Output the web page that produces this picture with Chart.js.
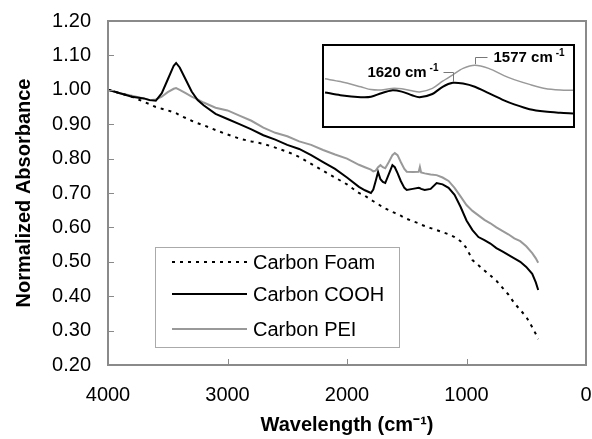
<!DOCTYPE html>
<html>
<head>
<meta charset="utf-8">
<script src="https://cdn.jsdelivr.net/npm/chart.js@4"></script>
<style>
    html, body { margin: 0; padding: 0; background: #fff; }
    #wrap { position: relative; width: 592px; height: 439px; }
    #inset { position: absolute; left: 322px; top: 44px; width: 249px; height: 80px; border: 2px solid #000; background: #fff; }
</style>
</head>
<body>
<div id="wrap">
    <canvas id="myChart" width="592" height="439"></canvas>
    <div id="inset"><canvas id="insetChart" width="249" height="80"></canvas></div>
</div>
<script>
// wavenumbers (cm-1) shared by the three spectra
var wavenumbers = [4000, 3900, 3800, 3700, 3650, 3600, 3550, 3500, 3450, 3430, 3400, 3350, 3300, 3250, 3200, 3100, 3000, 2900, 2800, 2700, 2600, 2500, 2400, 2300, 2200, 2100, 2000, 1900, 1850, 1800, 1780, 1760, 1740, 1720, 1700, 1680, 1650, 1620, 1600, 1577, 1550, 1520, 1500, 1450, 1400, 1390, 1380, 1350, 1300, 1250, 1200, 1150, 1100, 1050, 1000, 950, 900, 850, 800, 750, 700, 650, 600, 550, 500, 450, 420, 400];

var carbonFoam = [1.00, 0.99, 0.98, 0.965, 0.958, 0.95, 0.945, 0.94, 0.935, 0.932, 0.926, 0.918, 0.91, 0.903, 0.897, 0.883, 0.87, 0.858, 0.85, 0.843, 0.832, 0.82, 0.805, 0.785, 0.765, 0.745, 0.725, 0.70, 0.692, 0.68, 0.676, 0.672, 0.668, 0.663, 0.66, 0.655, 0.65, 0.645, 0.642, 0.638, 0.634, 0.628, 0.625, 0.618, 0.612, 0.61, 0.608, 0.604, 0.598, 0.592, 0.586, 0.58, 0.572, 0.56, 0.54, 0.505, 0.49, 0.475, 0.46, 0.445, 0.425, 0.405, 0.38, 0.36, 0.34, 0.31, 0.29, 0.275];

var carbonCOOH = [1.00, 0.99, 0.98, 0.975, 0.97, 0.968, 0.99, 1.03, 1.07, 1.078, 1.065, 1.03, 0.995, 0.97, 0.955, 0.93, 0.915, 0.90, 0.885, 0.868, 0.855, 0.84, 0.828, 0.81, 0.79, 0.77, 0.745, 0.718, 0.708, 0.70, 0.71, 0.735, 0.761, 0.74, 0.732, 0.729, 0.755, 0.781, 0.775, 0.758, 0.735, 0.715, 0.709, 0.712, 0.715, 0.714, 0.712, 0.709, 0.712, 0.729, 0.725, 0.715, 0.695, 0.66, 0.62, 0.592, 0.572, 0.563, 0.553, 0.54, 0.53, 0.52, 0.51, 0.50, 0.485, 0.465, 0.44, 0.418];

var carbonPEI = [1.00, 0.99, 0.983, 0.975, 0.97, 0.972, 0.98, 0.993, 1.003, 1.005, 1.0, 0.99, 0.98, 0.972, 0.963, 0.948, 0.94, 0.925, 0.91, 0.89, 0.875, 0.865, 0.85, 0.84, 0.825, 0.812, 0.80, 0.782, 0.775, 0.768, 0.763, 0.765, 0.775, 0.781, 0.775, 0.772, 0.79, 0.81, 0.816, 0.81, 0.79, 0.77, 0.762, 0.761, 0.762, 0.776, 0.76, 0.757, 0.754, 0.752, 0.745, 0.735, 0.715, 0.69, 0.665, 0.648, 0.635, 0.622, 0.612, 0.60, 0.59, 0.58, 0.568, 0.56, 0.545, 0.525, 0.51, 0.497];

var seriesNames = ["Carbon Foam", "Carbon COOH", "Carbon PEI"];
var xTicks = [4000, 3000, 2000, 1000, 0];
var yTicks = [0.2, 0.3, 0.4, 0.5, 0.6, 0.7, 0.8, 0.9, 1.0, 1.1, 1.2];

// inset: 1870-1385 cm-1 region, relative absorbance
var insetWavenumbers = [1870, 1840, 1800, 1780, 1760, 1740, 1720, 1700, 1685, 1660, 1640, 1620, 1600, 1577, 1550, 1520, 1500, 1470, 1440, 1410, 1385];
var insetPEI = [0.59, 0.555, 0.49, 0.455, 0.45, 0.47, 0.465, 0.44, 0.425, 0.47, 0.56, 0.64, 0.72, 0.76, 0.72, 0.63, 0.58, 0.52, 0.47, 0.45, 0.446];
var insetCOOH = [0.42, 0.385, 0.36, 0.365, 0.41, 0.445, 0.43, 0.385, 0.36, 0.40, 0.49, 0.54, 0.53, 0.49, 0.41, 0.32, 0.27, 0.21, 0.18, 0.165, 0.157];
var insetPeaks = [1620, 1577];

var FONT = '"Liberation Sans", Arial, sans-serif';
Chart.defaults.font.family = FONT;
Chart.defaults.color = "#000";

function toPoints(xs, ys) {
    return xs.map(function (x, i) {
        return { x: x, y: ys[i] };
    });
}

// plot frame, inner tick marks and legend box
var framePlugin = {
    id: "frame",
    afterDraw: function (chart) {
        var c = chart.ctx;
        var a = chart.chartArea;
        var xs = chart.scales.x;
        var ys = chart.scales.y;
        c.save();
        c.strokeStyle = "#8a8a8a";
        c.lineWidth = 2;
        c.strokeRect(a.left, a.top, a.right - a.left, a.bottom - a.top);
        c.lineWidth = 1;
        c.beginPath();
        yTicks.forEach(function (v) {
            var py = Math.round(ys.getPixelForValue(v)) + 0.5;
            c.moveTo(a.left, py);
            c.lineTo(a.left + 6, py);
        });
        xTicks.forEach(function (v) {
            var px = Math.round(xs.getPixelForValue(v)) + 0.5;
            c.moveTo(px, a.bottom);
            c.lineTo(px, a.bottom - 6);
        });
        c.stroke();

        // legend
        var lx = a.left + 47, ly = a.top + 226, lw = 244, lh = 100;
        c.fillStyle = "#fff";
        c.fillRect(lx, ly, lw, lh);
        c.strokeStyle = "#aaa";
        c.lineWidth = 1;
        c.strokeRect(lx + 0.5, ly + 0.5, lw, lh);
        var rows = [15, 47, 82];
        chart.data.datasets.forEach(function (ds, i) {
            var yy = ly + rows[i];
            c.beginPath();
            c.setLineDash(ds.borderDash || []);
            c.strokeStyle = ds.borderColor;
            c.lineWidth = ds.borderWidth;
            c.moveTo(lx + 17, yy);
            c.lineTo(lx + 92, yy);
            c.stroke();
            c.setLineDash([]);
            c.fillStyle = "#000";
            c.font = "20px " + FONT;
            c.textBaseline = "middle";
            c.textAlign = "left";
            c.fillText(ds.label, lx + 98, yy + 1);
        });
        c.restore();
    }
};

var ctx = document.getElementById("myChart").getContext("2d");
var myChart = new Chart(ctx, {
    type: "line",
    data: {
        datasets: [
            {
                label: seriesNames[0],
                data: toPoints(wavenumbers, carbonFoam),
                borderColor: "#000",
                borderWidth: 2,
                borderDash: [3, 5],
                pointRadius: 0,
                tension: 0
            },
            {
                label: seriesNames[1],
                data: toPoints(wavenumbers, carbonCOOH),
                borderColor: "#000",
                borderWidth: 2,
                pointRadius: 0,
                tension: 0
            },
            {
                label: seriesNames[2],
                data: toPoints(wavenumbers, carbonPEI),
                borderColor: "#999",
                borderWidth: 2,
                pointRadius: 0,
                tension: 0
            }
        ]
    },
    options: {
        responsive: false,
        animation: false,
        layout: { padding: { left: 0, top: 21, right: 6, bottom: 0 } },
        plugins: {
            legend: { display: false },
            tooltip: { enabled: false }
        },
        scales: {
            x: {
                type: "linear",
                reverse: true,
                min: 0,
                max: 4000,
                afterBuildTicks: function (scale) {
                    scale.ticks = xTicks.map(function (v) { return { value: v }; });
                },
                afterFit: function (scale) {
                    scale.height = 74;
                    scale.paddingLeft = 0;
                    scale.paddingRight = 0;
                },
                grid: { display: false, drawTicks: false },
                border: { display: false },
                ticks: {
                    padding: 18,
                    font: { size: 20 },
                    maxRotation: 0,
                    color: "#000",
                    callback: function (v) { return String(v); }
                },
                title: {
                    display: true,
                    text: "Wavelength (cm⁻¹)",
                    font: { size: 20, weight: "bold" },
                    padding: { top: 0, bottom: 2 },
                    color: "#000"
                }
            },
            y: {
                min: 0.2,
                max: 1.2,
                afterBuildTicks: function (scale) {
                    scale.ticks = yTicks.map(function (v) { return { value: v }; });
                },
                afterFit: function (scale) {
                    scale.width = 108;
                    scale.paddingTop = 0;
                    scale.paddingBottom = 0;
                },
                grid: { display: false, drawTicks: false },
                border: { display: false },
                ticks: {
                    padding: 17,
                    font: { size: 20 },
                    color: "#000",
                    callback: function (v) { return Number(v).toFixed(2); }
                },
                title: {
                    display: true,
                    text: "Normalized Absorbance",
                    font: { size: 20, weight: "bold" },
                    padding: { top: 12, bottom: 0 },
                    color: "#000"
                }
            }
        }
    },
    plugins: [framePlugin]
});

// peak labels on the inset
function drawPeakLabel(c, text, x, y, align) {
    c.font = "bold 15px " + FONT;
    var w1 = c.measureText(text).width;
    c.font = "bold 10px " + FONT;
    var w2 = c.measureText("-1").width;
    var left = align === "right" ? x - w1 - 3 - w2 : x;
    c.font = "bold 15px " + FONT;
    c.textAlign = "left";
    c.textBaseline = "middle";
    c.fillText(text, left, y + 1);
    c.font = "bold 10px " + FONT;
    c.fillText("-1", left + w1 + 3, y - 4);
}

var insetLabelPlugin = {
    id: "insetLabels",
    afterDraw: function (chart) {
        var c = chart.ctx;
        var xs = chart.scales.x;
        var ys = chart.scales.y;
        var p1 = Math.round(xs.getPixelForValue(insetPeaks[0])) + 0.5;
        var p2 = Math.round(xs.getPixelForValue(insetPeaks[1])) + 0.5;
        var top1 = ys.getPixelForValue(insetCOOH[insetWavenumbers.indexOf(insetPeaks[0])]) - 1;
        var top2 = ys.getPixelForValue(insetPEI[insetWavenumbers.indexOf(insetPeaks[1])]) - 1;
        c.save();
        c.strokeStyle = "#777";
        c.lineWidth = 1;
        c.beginPath();
        c.moveTo(p1, top1);
        c.lineTo(p1, 26.5);
        c.lineTo(p1 - 10, 26.5);
        c.moveTo(p2, top2);
        c.lineTo(p2, 11.5);
        c.lineTo(p2 + 12, 11.5);
        c.stroke();
        c.fillStyle = "#000";
        drawPeakLabel(c, "1620 cm", p1 - 15, 26, "right");
        drawPeakLabel(c, "1577 cm", p2 + 18, 11, "left");
        c.restore();
    }
};

var insetChart = new Chart(document.getElementById("insetChart").getContext("2d"), {
    type: "line",
    data: {
        datasets: [
            {
                label: seriesNames[1],
                data: toPoints(insetWavenumbers, insetCOOH),
                borderColor: "#000",
                borderWidth: 2,
                pointRadius: 0,
                tension: 0.3
            },
            {
                label: seriesNames[2],
                data: toPoints(insetWavenumbers, insetPEI),
                borderColor: "#999",
                borderWidth: 1.5,
                pointRadius: 0,
                tension: 0.3
            }
        ]
    },
    options: {
        responsive: false,
        animation: false,
        layout: { padding: 0 },
        plugins: { legend: { display: false }, tooltip: { enabled: false } },
        scales: {
            x: { type: "linear", reverse: true, min: 1385, max: 1872, display: false },
            y: { min: 0, max: 1, display: false }
        }
    },
    plugins: [insetLabelPlugin]
});
</script>
</body>
</html>
